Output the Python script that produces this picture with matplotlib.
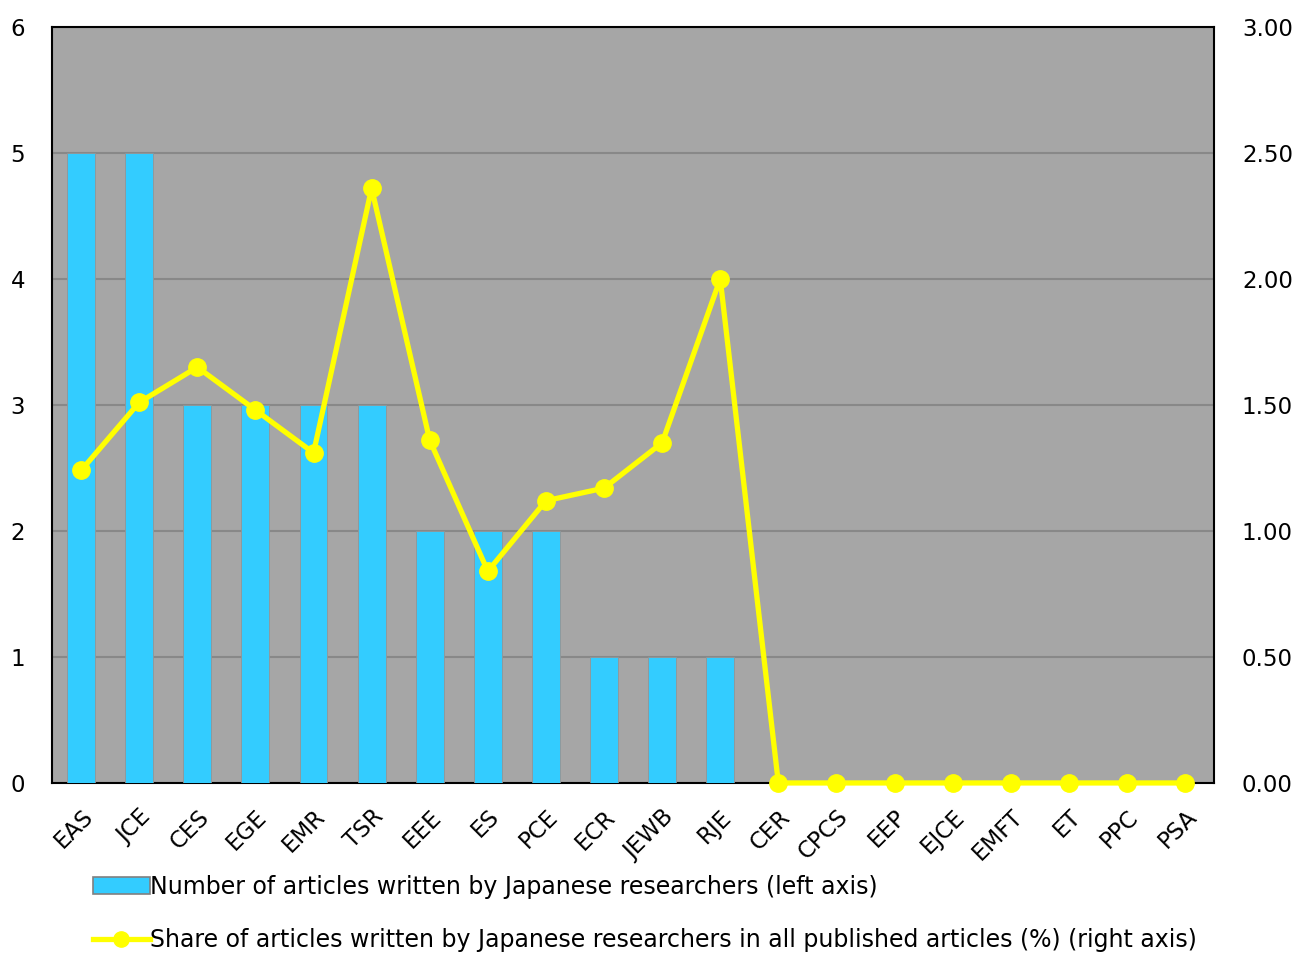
import matplotlib.pyplot as plt
from matplotlib.lines import Line2D
from matplotlib.patches import Patch

journals = ["EAS", "JCE", "CES", "EGE", "EMR", "TSR", "EEE", "ES", "PCE", "ECR",
            "JEWB", "RJE", "CER", "CPCS", "EEP", "EJCE", "EMFT", "ET", "PPC", "PSA"]
articles = [5, 5, 3, 3, 3, 3, 2, 2, 2, 1, 1, 1, 0, 0, 0, 0, 0, 0, 0, 0]
share_pct = [1.24, 1.51, 1.65, 1.48, 1.31, 2.36, 1.36, 0.84, 1.12, 1.17,
             1.35, 2.00, 0, 0, 0, 0, 0, 0, 0, 0]

left_ticks = [0, 1, 2, 3, 4, 5, 6]
right_ticks = [0, 0.5, 1.0, 1.5, 2.0, 2.5, 3.0]

bar_color = "#33ccff"
line_color = "#ffff00"
bg_color = "#a6a6a6"
grid_color = "#888888"

plt.rcParams["font.family"] = ["DejaVu Sans"]

fig = plt.figure(figsize=(13.11, 9.56), dpi=100)
ax = fig.add_axes([0.0397, 0.181, 0.8864, 0.7908])
ax.set_facecolor(bg_color)

x = list(range(len(journals)))
ax.bar(x, articles, width=0.48, color=bar_color, edgecolor="#949494", linewidth=0.6, zorder=3)
ax.set_xlim(-0.5, len(journals) - 0.5)
ax.set_ylim(0, 6)
ax.set_yticks(left_ticks)
ax.set_yticklabels([str(t) for t in left_ticks])
ax.yaxis.grid(True, color=grid_color, linewidth=1.5, zorder=1)
ax.set_axisbelow(True)
ax.tick_params(axis="y", length=0, pad=30, labelsize=16.5)
for lbl in ax.get_yticklabels():
    lbl.set_horizontalalignment("left")
ax.set_xticks(x)
ax.set_xticklabels(journals, rotation=45, ha="right", rotation_mode="anchor", fontsize=16.5)
ax.tick_params(axis="x", length=0, pad=16)
for sp in ax.spines.values():
    sp.set_color("black")
    sp.set_linewidth(1.5)

ax2 = ax.twinx()
ax2.plot(x, share_pct, color=line_color, linewidth=3.8, marker="o", markersize=12.5,
         clip_on=False, zorder=5)
ax2.set_ylim(0, 3)
ax2.set_yticks(right_ticks)
ax2.set_yticklabels([f"{t:.2f}" for t in right_ticks])
ax2.tick_params(axis="y", length=0, pad=20, labelsize=16.5)
for sp in ax2.spines.values():
    sp.set_visible(False)

handles = [
    Patch(facecolor=bar_color, edgecolor="#808080", linewidth=1.2),
    Line2D([0], [0], color=line_color, linewidth=3.8, marker="o", markersize=11),
]
labels = [
    "Number of articles written by Japanese researchers (left axis)",
    "Share of articles written by Japanese researchers in all published articles (%) (right axis)",
]
fig.legend(handles, labels, loc="upper left", bbox_to_anchor=(0.071, 0.085),
           frameon=False, fontsize=17, handlelength=2.4, handletextpad=0.0,
           labelspacing=1.25, borderaxespad=0, borderpad=0)

fig.savefig("out.png", dpi=100)
